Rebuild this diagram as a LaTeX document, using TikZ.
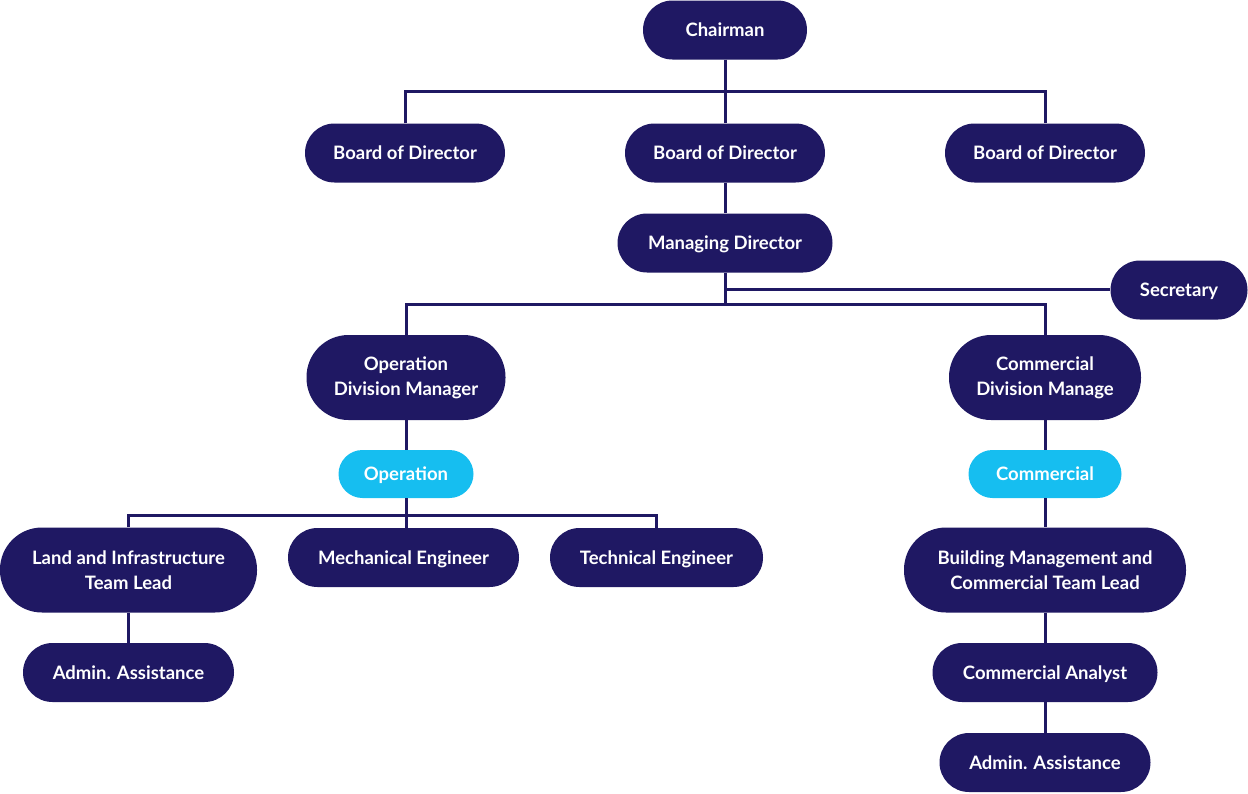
\documentclass[tikz,border=0pt]{standalone}
\usepackage{fontspec}
\setmainfont{Lato}[UprightFont=* Bold]
\definecolor{navy}{RGB}{31,24,99}
\definecolor{sky}{RGB}{22,190,240}
\begin{document}
\begin{tikzpicture}[x=1pt,y=-1pt,
  pill/.style={fill=navy,text=white,inner sep=0pt,align=center,
    font=\fontsize{18.5}{25}\selectfont},
  pillA/.style={pill,minimum height=59pt,rounded corners=29.5pt,text height=13.5pt,text depth=0pt},
  pillB/.style={pill,minimum height=85pt,rounded corners=42pt},
  pillC/.style={pill,fill=sky,minimum height=48pt,rounded corners=24pt,text height=13.5pt,text depth=0pt},
  link/.style={draw=navy,line width=3pt}]
\useasboundingbox (0,0) rectangle (1248,793);
% nodes
\node[pillA,minimum width=164pt] (ch) at (725,30) {Chairman};
\node[pillA,minimum width=200pt] (bl) at (405,153) {Board of Director};
\node[pillA,minimum width=200pt] (bm) at (725,153) {Board of Director};
\node[pillA,minimum width=200pt] (br) at (1045,153) {Board of Director};
\node[pillA,minimum width=215pt] (md) at (725,243) {Managing Director};
\node[pillA,minimum width=137pt] (sec) at (1179,290) {Secretary};
\node[pillB,minimum width=199pt] (odm) at (406,377.5) {Operation\\Division Manager};
\node[pillB,minimum width=192pt] (cdm) at (1045,377.5) {Commercial\\Division Manage};
\node[pillC,minimum width=135pt] (op) at (406,474) {Operation};
\node[pillC,minimum width=153pt] (cm) at (1045,474) {Commercial};
\node[pillB,minimum width=257pt] (land) at (128.5,570) {Land and Infrastructure\\Team Lead};
\node[pillA,minimum width=231pt] (mech) at (403.5,557.5) {Mechanical Engineer};
\node[pillA,minimum width=213pt] (tech) at (656.5,557.5) {Technical Engineer};
\node[pillA,minimum width=211pt] (aal) at (128.5,672.5) {Admin. Assistance};
\node[pillB,minimum width=282pt] (bmc) at (1045,570) {Building Management and\\Commercial Team Lead};
\node[pillA,minimum width=225pt] (ca) at (1045,672.5) {Commercial Analyst};
\node[pillA,minimum width=211pt] (aar) at (1045,762.5) {Admin. Assistance};
% junctions
\coordinate (j1) at (725,91);
\coordinate (j2) at (725,304);
\coordinate (j3) at (725,289);
\coordinate (j4) at (406,515.5);
% connectors
\draw[link] (ch.south) -- (bm.north);
\draw[link] (bl.north) |- (j1) -| (br.north);
\draw[link] (bm.south) -- (md.north);
\draw[link] (md.south) -- (j2);
\draw[link] (j3) -- (sec.west |- j3);
\draw[link] (odm.north) |- (j2) -| (cdm.north);
\draw[link] (odm.south) -- (op.north);
\draw[link] (op.south) -- (j4);
\draw[link] (land.north) |- (j4) -| (tech.north);
\draw[link] (j4) -- (j4 |- mech.north);
\draw[link] (land.south) -- (aal.north);
\draw[link] (cdm.south) -- (cm.north);
\draw[link] (cm.south) -- (bmc.north);
\draw[link] (bmc.south) -- (ca.north);
\draw[link] (ca.south) -- (aar.north);
\end{tikzpicture}
\end{document}
